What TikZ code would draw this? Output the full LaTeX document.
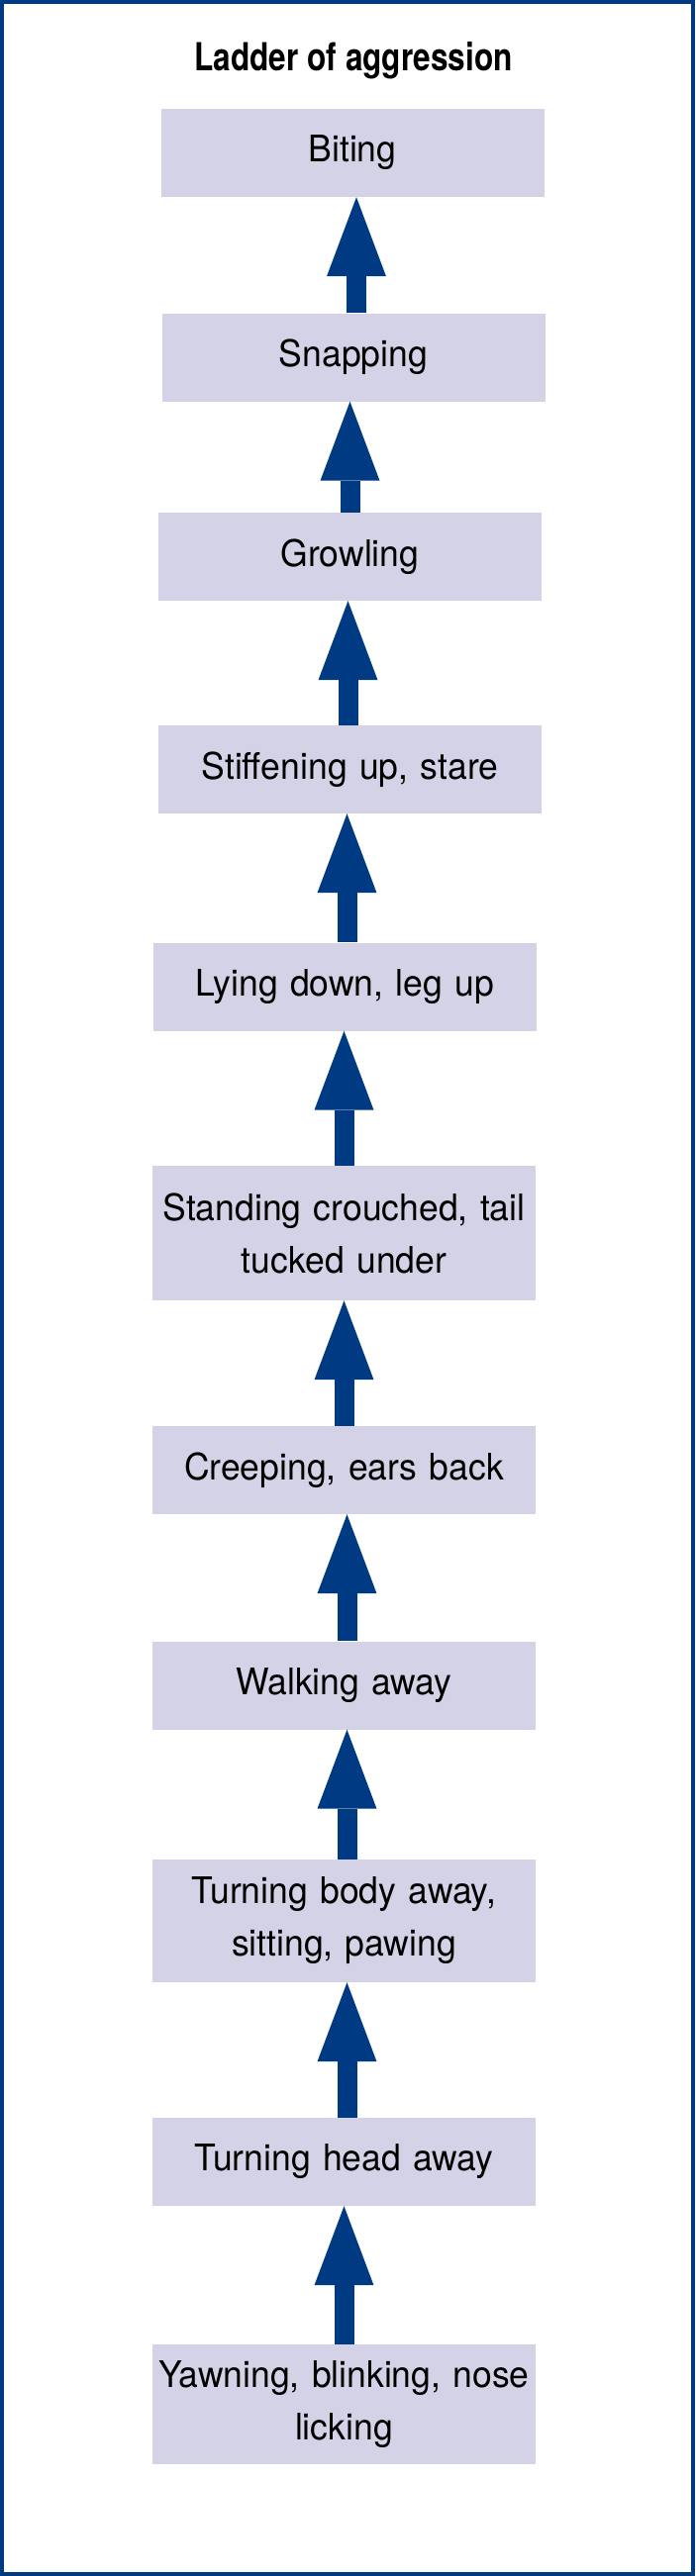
\documentclass[tikz,border=0pt]{standalone}
\usepackage{fontspec}
\setmainfont{TeX Gyre Heros}[FakeStretch=0.96]
\newfontfamily\titlefont{TeX Gyre Heros}[FakeStretch=0.81]
\usetikzlibrary{
    positioning,
    arrows.meta,
    calc
}
\definecolor{ladderblue}{RGB}{0,58,130}
\definecolor{ladderfill}{RGB}{212,210,230}
\tikzset{
    ladderbox/.style={fill=ladderfill, minimum width=387pt, minimum height=89pt,
        text width=380pt, align=center, inner sep=0pt,
        font=\fontsize{37}{53}\selectfont},
    ladderarrow/.style={draw=ladderblue, line width=20pt,
        -{Triangle[length=80pt, width=60pt, line width=0pt]}}
}

\begin{document}
\begin{tikzpicture}[x=1pt, y=-1pt]
        \useasboundingbox (0,0) rectangle (702,2603);
        % Ramme
        \draw[ladderblue, line width=4pt] (2,2) rectangle (700,2601);

        % Tittel
        \node[anchor=base, font=\titlefont\bfseries\fontsize{39}{45}\selectfont] (title) at (357, 71) {Ladder of aggression};

        % Trinnene på stigen
        \node[ladderbox] (bite) at (356, 154.5) {Biting};
        \node[ladderbox] (snap) at (357, 361) {Snapping};
        \node[ladderbox] (growl) at (353.5, 562.5) {Growling};
        \node[ladderbox] (stiff) at (353.5, 777.5) {Stiffening up, stare};
        \node[ladderbox] (lie) at (348.5, 997) {Lying down, leg up};
        \node[ladderbox, minimum height=136pt] (crouch) at (347.5, 1246) {Standing crouched, tail\\ tucked under};
        \node[ladderbox] (creep) at (347.5, 1485.5) {Creeping, ears back};
        \node[ladderbox] (walk) at (347.5, 1703) {Walking away};
        \node[ladderbox, minimum height=124pt] (body) at (347.5, 1941) {Turning body away,\\ sitting, pawing};
        \node[ladderbox] (head) at (347.5, 2184.5) {Turning head away};
        \node[ladderbox, minimum height=121pt] (yawn) at (347.5, 2429.5) {Yawning, blinking, nose\\ licking};

        % Piler oppover
        \draw[ladderarrow] ($(snap.north)+(3,0)$) -- ($(snap.north |- bite.south)+(3,0)$);
        \draw[ladderarrow] (growl.north) -- (growl.north |- snap.south);
        \draw[ladderarrow] ($(stiff.north)+(-2,0)$) -- ($(stiff.north |- growl.south)+(-2,0)$);
        \draw[ladderarrow] ($(lie.north)+(2,0)$) -- ($(lie.north |- stiff.south)+(2,0)$);
        \draw[ladderarrow] (crouch.north) -- (crouch.north |- lie.south);
        \draw[ladderarrow] (creep.north) -- (creep.north |- crouch.south);
        \draw[ladderarrow] ($(walk.north)+(3,0)$) -- ($(walk.north |- creep.south)+(3,0)$);
        \draw[ladderarrow] ($(body.north)+(3,0)$) -- ($(body.north |- walk.south)+(3,0)$);
        \draw[ladderarrow] ($(head.north)+(3,0)$) -- ($(head.north |- body.south)+(3,0)$);
        \draw[ladderarrow] (yawn.north) -- (yawn.north |- head.south);
    \end{tikzpicture}
\end{document}
